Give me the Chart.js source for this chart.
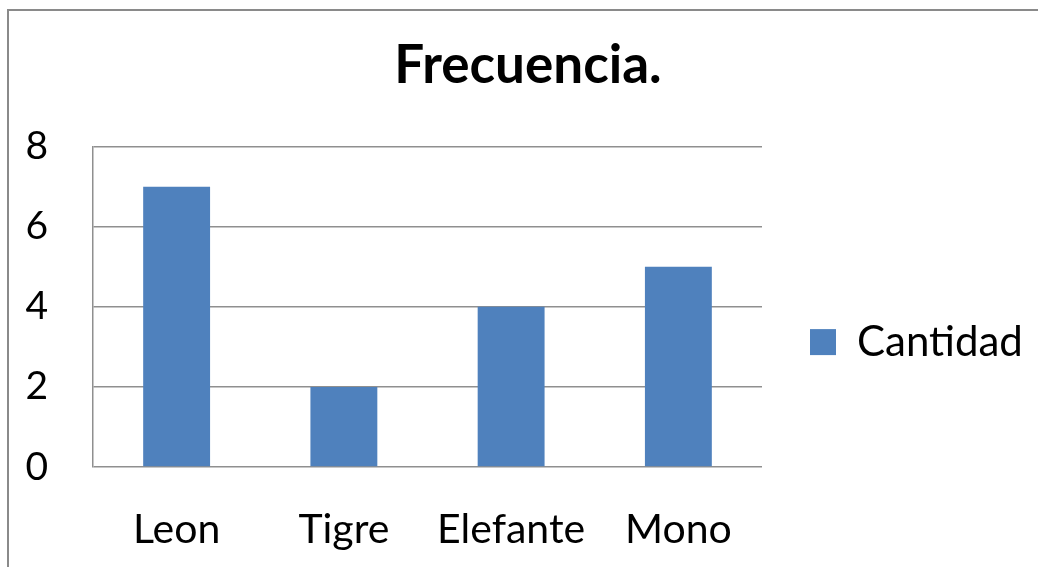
<!DOCTYPE html>
<html>
<head>
<meta charset="utf-8">
<title>Frecuencia.</title>
<script src="https://cdn.jsdelivr.net/npm/chart.js@4/dist/chart.umd.min.js"></script>
<style>
  html, body { margin: 0; padding: 0; background: #fff; }
  #wrap { width: 1038px; height: 567px; position: relative; }
</style>
</head>
<body>
<div id="wrap"><canvas id="chart" width="1038" height="567"></canvas></div>
<script>
// data
const categories = ['Leon', 'Tigre', 'Elefante', 'Mono'];
const cantidad = [7, 2, 4, 5];
const seriesName = 'Cantidad';
const chartTitle = 'Frecuencia.';

const FONT = 'Lato, "Open Sans", sans-serif';
const GRID = '#8f8f8f';

// outer frame of the chart object (left + top edges only are visible)
const framePlugin = {
  id: 'frame',
  beforeDraw(chart) {
    const ctx = chart.ctx;
    ctx.save();
    ctx.strokeStyle = '#8a8a8a';
    ctx.lineWidth = 2;
    ctx.beginPath();
    ctx.moveTo(8, chart.height);
    ctx.lineTo(8, 10);
    ctx.lineTo(chart.width, 10);
    ctx.stroke();
    ctx.restore();
  }
};

// make the legend column a fixed width so the plot ends where the reference does
const legendWidthPlugin = {
  id: 'legendWidth',
  beforeLayout(chart) {
    const lg = chart.legend;
    if (lg && !lg._fixedWidth) {
      const fit = lg.fit.bind(lg);
      lg.fit = function () {
        fit();
        this.width = 276;
      };
      lg._fixedWidth = true;
    }
  }
};

new Chart(document.getElementById('chart').getContext('2d'), {
  type: 'bar',
  data: {
    labels: categories,
    datasets: [{
      label: seriesName,
      data: cantidad,
      backgroundColor: '#4f81bd',
      borderWidth: 0,
      categoryPercentage: 1,
      barPercentage: 0.4
    }]
  },
  options: {
    responsive: false,
    animation: false,
    layout: { padding: { left: 18, right: 0, top: 34, bottom: 0 } },
    plugins: {
      title: {
        display: true,
        text: chartTitle,
        color: '#000',
        font: { family: FONT, size: 53, weight: 'bold' },
        padding: { top: 0, bottom: 49 }
      },
      legend: {
        position: 'right',
        // empty title only pushes the legend entry down a bit
        title: { display: true, text: '', font: { size: 1 }, padding: { top: 82, bottom: 0 } },
        labels: {
          color: '#000',
          font: { family: FONT, size: 42 },
          boxWidth: 26,
          boxHeight: 26,
          padding: 48
        }
      },
      tooltip: { enabled: false }
    },
    scales: {
      x: {
        afterFit(scale) { scale.height = 100; },
        grid: { display: false, drawTicks: false },
        border: { display: false },
        ticks: {
          color: '#000',
          font: { family: FONT, size: 41 },
          padding: 38,
          maxRotation: 0,
          autoSkip: false
        }
      },
      y: {
        min: 0,
        max: 8,
        afterFit(scale) { scale.width = 75; },
        grid: { color: GRID, lineWidth: 1.5, drawTicks: false },
        border: { display: true, color: GRID, width: 1.5 },
        ticks: {
          stepSize: 2,
          color: '#000',
          font: { family: FONT, size: 39 },
          padding: 45
        }
      }
    }
  },
  plugins: [framePlugin, legendWidthPlugin]
});
</script>
</body>
</html>
